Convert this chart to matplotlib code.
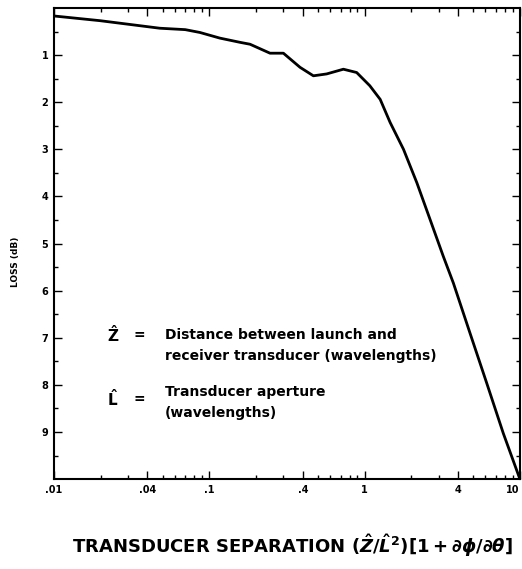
import numpy as np
import matplotlib
matplotlib.use("Agg")
import matplotlib.pyplot as plt
from matplotlib.ticker import FixedLocator, NullFormatter

# curve: separation vs loss (dB)
sep = [0.01, 0.0198, 0.048, 0.07, 0.087, 0.117, 0.158, 0.183, 0.246, 0.30,
       0.384, 0.468, 0.57, 0.73, 0.889, 1.08, 1.26, 1.46, 1.78, 2.17, 2.64,
       3.21, 3.73, 4.77, 6.11, 7.82, 10.0]
loss = [0.17, 0.27, 0.43, 0.46, 0.52, 0.64, 0.73, 0.77, 0.96, 0.96,
        1.26, 1.44, 1.40, 1.30, 1.37, 1.65, 1.94, 2.43, 3.00, 3.71, 4.49,
        5.27, 5.84, 6.90, 7.96, 9.03, 10.0]

xticks = [0.01, 0.04, 0.1, 0.4, 1, 4, 10]
xlabels = [".01", ".04", ".1", ".4", "1", "4", "10"]
yticks = [1, 2, 3, 4, 5, 6, 7, 8, 9]

plt.rcParams['font.family'] = ['DejaVu Sans']
plt.rcParams['font.weight'] = 'bold'
plt.rcParams['mathtext.fontset'] = 'dejavusans'

fig = plt.figure(figsize=(5.22, 5.69), dpi=100)
ax = fig.add_axes([0.1034, 0.158, 0.8926, 0.828])

ax.plot(sep, loss, color='black', lw=2.0, solid_joinstyle='round')

ax.set_xscale('log')
ax.set_xlim(0.01, 10)
ax.set_ylim(10, 0)

ax.xaxis.set_major_locator(FixedLocator(xticks))
ax.set_xticklabels(xlabels, fontsize=7, fontweight='bold')
ax.get_xticklabels()[-1].set_horizontalalignment('right')
minor_x = [m * 10.0 ** e for e in (-2, -1, 0) for m in range(2, 10)]
ax.xaxis.set_minor_locator(FixedLocator(minor_x))
ax.xaxis.set_minor_formatter(NullFormatter())

ax.set_yticks(yticks)
ax.set_yticklabels([str(v) for v in yticks], fontsize=7, fontweight='bold')
ax.yaxis.set_minor_locator(FixedLocator(np.arange(0.5, 10, 1.0)))

ax.tick_params(which='both', direction='in', top=True, right=True, width=1.0)
ax.tick_params(which='major', length=6, pad=4)
ax.tick_params(which='minor', length=3)
for s in ax.spines.values():
    s.set_linewidth(1.5)

ax.set_ylabel("LOSS (dB)", fontsize=6.5, fontweight='bold')
ax.yaxis.set_label_coords(-0.073, 0.462)

# notes inside the plot
ax.text(0.0219, 6.94, r"$\hat{\mathbf{Z}}$", fontsize=11, va='center')
ax.text(0.0325, 6.94, "=", fontsize=10, va='center')
ax.text(0.0519, 6.94, "Distance between launch and", fontsize=10, va='center')
ax.text(0.0519, 7.38, "receiver transducer (wavelengths)", fontsize=10, va='center')
ax.text(0.0219, 8.3, r"$\hat{\mathbf{L}}$", fontsize=11, va='center')
ax.text(0.0325, 8.3, "=", fontsize=10, va='center')
ax.text(0.0519, 8.16, "Transducer aperture", fontsize=10, va='center')
ax.text(0.0519, 8.6, "(wavelengths)", fontsize=10, va='center')

fig.text(0.56, 0.018, r"TRANSDUCER SEPARATION $(\hat{Z}/\hat{L}^{2})[1+\partial\phi/\partial\theta]$",
         fontsize=13, fontweight='bold', ha='center', va='bottom')

fig.savefig("out.png", dpi=100)
